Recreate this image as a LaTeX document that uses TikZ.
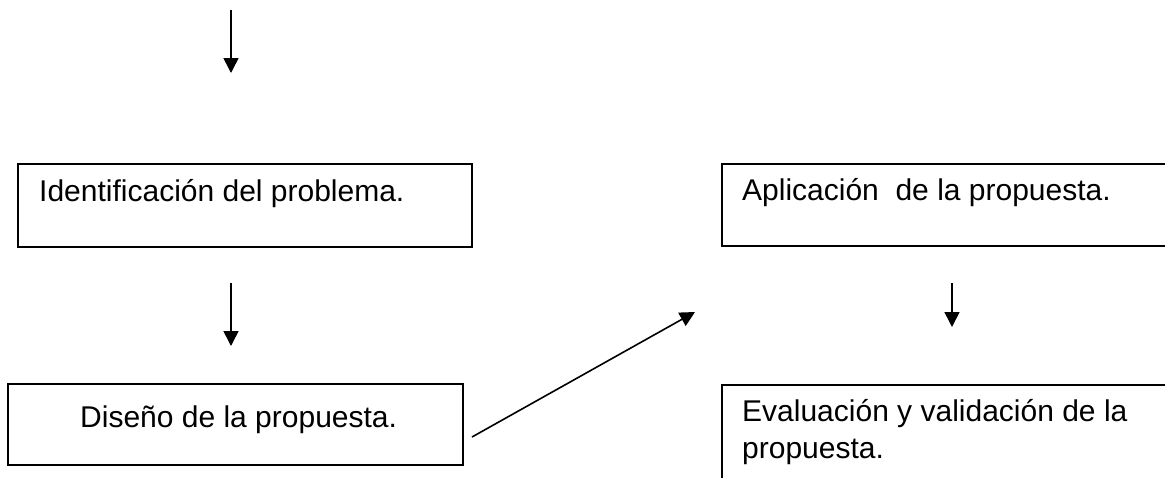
\documentclass[tikz,border=0pt]{standalone}
\usepackage{fontspec}
\setmainfont{Liberation Sans}
\usetikzlibrary{arrows.meta}
\tikzset{
  stepbox/.style={draw=black, line width=1.8pt, rectangle, inner sep=0pt, anchor=north west},
  boxtext/.style={anchor=base west, inner sep=0pt, font=\fontsize{30}{37}\selectfont, align=left},
  flow/.style={draw=black, line width=1.6pt, -{Triangle[length=15pt,width=15pt]}}
}
\begin{document}
\begin{tikzpicture}[x=1pt,y=-1pt]
\useasboundingbox (0,0) rectangle (1165,477);
\clip (0,0) rectangle (1165,477);
\fill[white] (0,0) rectangle (1165,477);
% boxes
\node[stepbox, minimum width=454pt, minimum height=83pt] (ident) at (17,163) {};
\node[stepbox, minimum width=455pt, minimum height=81pt] (disenio) at (7,383) {};
\node[stepbox, minimum width=460pt, minimum height=82pt] (aplic) at (721,163) {};
\node[stepbox, minimum width=460pt, minimum height=110pt] (eval) at (721,384) {};
% texts
\node[boxtext] (identt) at (39,201) {Identificación del problema.};
\node[boxtext] (diseniot) at (80,427) {Diseño de la propuesta.};
\node[boxtext] (aplict) at (742,200) {Aplicación\ \ de la propuesta.};
\node[boxtext] (evalt) at (742,458) {Evaluación y validación de la\\propuesta.};
% arrow end points
\coordinate (a1s) at (231,10);
\coordinate (a1e) at (231,73);
\coordinate (a2s) at (231,283);
\coordinate (a2e) at (231,346);
\coordinate (a3s) at (472,437);
\coordinate (a3e) at (695,312);
\coordinate (a4s) at (952,283);
\coordinate (a4e) at (952,327);
\draw[flow] (a1s) -- (a1e);
\draw[flow] (a2s) -- (a2e);
\draw[flow] (a3s) -- (a3e);
\draw[flow] (a4s) -- (a4e);
\end{tikzpicture}
\end{document}
